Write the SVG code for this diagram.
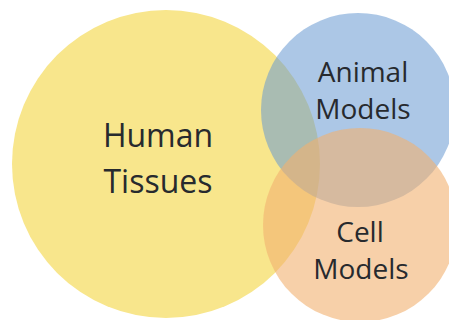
<svg xmlns="http://www.w3.org/2000/svg" width="449" height="320" viewBox="0 0 449 320">
<style>
.lbl{font-family:"Open Sans","Noto Sans","Liberation Sans",sans-serif;fill:#272a2e;text-anchor:middle}
.big{font-size:32px}
.sm{font-size:28px}
</style>
<rect width="449" height="320" fill="#ffffff"/>
<g id="human-tissues">
<circle cx="166" cy="164" r="154" fill="#f8e68c"/>
<text class="lbl big" x="158" y="147">Human</text>
<text class="lbl big" x="158" y="193">Tissues</text>
</g>
<g id="animal-models">
<circle cx="358" cy="110" r="97" fill="#6899d2" fill-opacity="0.55"/>
<text class="lbl sm" x="363" y="82">Animal</text>
<text class="lbl sm" x="363" y="119">Models</text>
</g>
<g id="cell-models">
<circle cx="360" cy="225" r="97" fill="#f2b070" fill-opacity="0.6"/>
<text class="lbl sm" x="360" y="242">Cell</text>
<text class="lbl sm" x="361" y="279">Models</text>
</g>
<g id="connectors"></g>
</svg>
